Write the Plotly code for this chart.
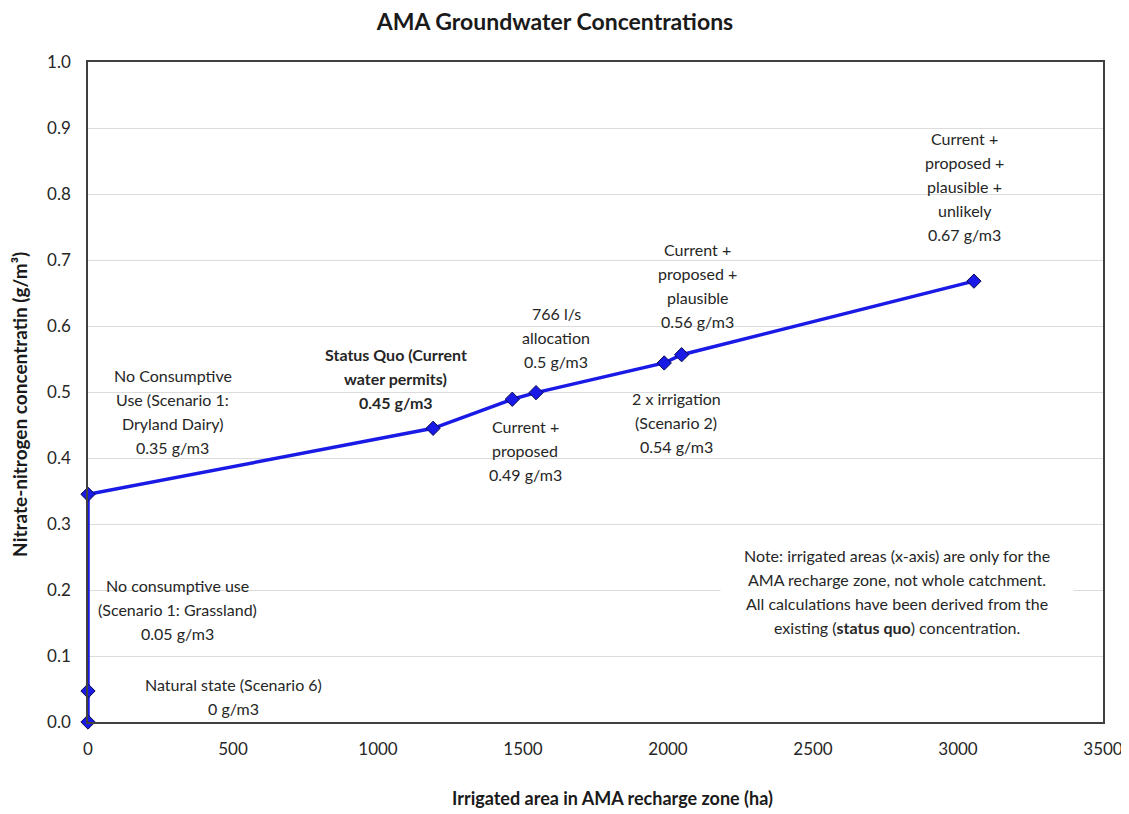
import plotly.graph_objects as go

# Data
area_ha = [0, 0, 0, 1190, 1463, 1545, 1987, 2047, 3055]
concentration = [0.0, 0.047, 0.345, 0.445, 0.489, 0.499, 0.544, 0.5565, 0.668]

label_texts = [
    "No Consumptive<br>Use (Scenario 1:<br>Dryland Dairy)<br>0.35 g/m3",
    "<b>Status Quo (Current</b><br><b>water permits)</b><br><b>0.45 g/m3</b>",
    "766 l/s<br>allocation<br>0.5 g/m3",
    "Current +<br>proposed<br>0.49 g/m3",
    "Current +<br>proposed +<br>plausible<br>0.56 g/m3",
    "2 x irrigation<br>(Scenario 2)<br>0.54 g/m3",
    "Current +<br>proposed +<br>plausible +<br>unlikely<br>0.67 g/m3",
    "No consumptive use<br>(Scenario 1: Grassland)<br>0.05 g/m3",
    "Natural state (Scenario 6)<br>0 g/m3",
]
label_x = [293, 1062, 1614, 1507, 2103, 2028, 3024, 307, 503]
label_y = [0.470, 0.521, 0.583, 0.411, 0.662, 0.4545, 0.811, 0.171, 0.0386]

note_text = ("Note: irrigated areas (x-axis) are only for the<br>"
             "AMA recharge zone, not whole catchment.<br>"
             "All calculations have been derived from the<br>"
             "existing (<b>status quo</b>) concentration.")
note_x, note_y = 2790, 0.197

x_ticks = [0, 500, 1000, 1500, 2000, 2500, 3000, 3500]
y_ticks = [0.0, 0.1, 0.2, 0.3, 0.4, 0.5, 0.6, 0.7, 0.8, 0.9, 1.0]

title_text = "AMA Groundwater Concentrations"
x_title = "Irrigated area in AMA recharge zone (ha)"
y_title = "Nitrate-nitrogen concentratin (g/m³)"

FONT = "Lato"
TXT = "#262626"
LINE_H = 24
W, H = 1121, 806  # page body has an 8px margin

fig = go.Figure()
fig.add_trace(go.Scatter(
    x=area_ha, y=concentration, mode="lines+markers",
    line=dict(color="#1a1ae6", width=3.5),
    marker=dict(symbol="diamond", size=11, color="#1a1ae6",
                line=dict(color="#0a0a50", width=1)),
    showlegend=False, cliponaxis=False,
))

def add_lines(text, x, y, bg=None):
    lines = text.split("<br>")
    n = len(lines)
    if bg:
        fig.add_annotation(x=x, y=y, xref="x", yref="y", text=" ", showarrow=False,
                           bgcolor=bg, width=350, height=n * LINE_H + 10)
    for i, ln in enumerate(lines):
        fig.add_annotation(x=x, y=y, xref="x", yref="y", text=ln, showarrow=False,
                           yshift=((n - 1) / 2 - i) * LINE_H,
                           font=dict(family=FONT, size=16, color=TXT), align="center")

for t, x, y in zip(label_texts, label_x, label_y):
    add_lines(t, x, y)

add_lines(note_text, note_x, note_y, bg="white")

# axis titles
fig.add_annotation(x=0.517, y=-0.115, xref="paper", yref="paper", showarrow=False,
                   text="<b>" + x_title + "</b>", xanchor="center", yanchor="middle",
                   font=dict(family=FONT, size=18, color="#1a1a1a"))
fig.add_annotation(x=-0.067, y=0.482, xref="paper", yref="paper", showarrow=False,
                   text="<b>" + y_title + "</b>", textangle=-90,
                   xanchor="center", yanchor="middle",
                   font=dict(family=FONT, size=19, color="#1a1a1a"))

fig.update_layout(
    width=W, height=H,
    margin=dict(l=80, r=26, t=54, b=92),
    paper_bgcolor="white", plot_bgcolor="white",
    title=dict(text="<b>" + title_text + "</b>", x=(555 - 8) / W, xanchor="center",
               y=1 - (22 - 8) / H, yanchor="middle",
               font=dict(family=FONT, size=23, color="#1a1a1a")),
    font=dict(family=FONT, color=TXT),
)
fig.update_xaxes(range=[0, 3500], tickvals=x_ticks, showgrid=False, zeroline=False,
                 showline=True, linecolor="#404040", linewidth=1.5, mirror=True,
                 ticks="", ticklabelstandoff=11, automargin=False,
                 tickfont=dict(family=FONT, size=17, color=TXT))
fig.update_yaxes(range=[0, 1.0], tickvals=y_ticks, tickformat=".1f", showgrid=True,
                 gridcolor="#dcdcdc", gridwidth=1, zeroline=False,
                 showline=True, linecolor="#404040", linewidth=1.5, mirror=True,
                 ticks="", ticklabelstandoff=12, automargin=False,
                 tickfont=dict(family=FONT, size=17, color=TXT))

fig.write_html("out.html")
